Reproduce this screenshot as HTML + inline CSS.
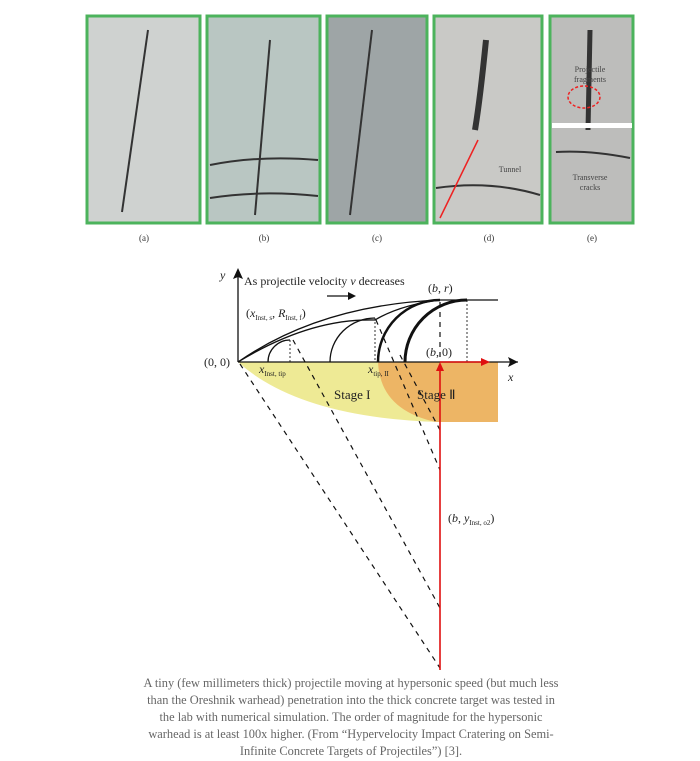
<!DOCTYPE html>
<html><head><meta charset="utf-8"><style>
html,body{margin:0;padding:0;background:#fff;}
body{width:700px;height:761px;position:relative;overflow:hidden;}
svg{position:absolute;left:0;top:0;}
.cap{position:absolute;left:140px;width:422px;top:675px;text-align:center;font-family:"Liberation Serif",serif;font-size:12.4px;line-height:17px;color:#666;}
</style></head><body>
<svg width="700" height="761" viewBox="0 0 700 761" font-family="Liberation Serif, serif">
<g stroke="#4cb35c" stroke-width="3">
<rect x="87" y="16" width="113" height="207" fill="#cfd2d0"/>
<rect x="207" y="16" width="113" height="207" fill="#b9c6c2"/>
<rect x="327" y="16" width="100" height="207" fill="#9ea5a6"/>
<rect x="434" y="16" width="108" height="207" fill="#c9c9c6"/>
<rect x="550" y="16" width="83" height="207" fill="#bdbdbb"/>
</g>
<g fill="none" stroke="#333" stroke-width="2">
<path d="M148 30 L122 212"/><path d="M270 40 L255 215"/><path d="M210 165 Q260 155 318 160"/><path d="M210 198 Q260 190 318 196"/>
<path d="M372 30 L350 215"/><path d="M486 40 Q480 100 475 130" stroke-width="6"/><path d="M436 188 Q490 180 540 195"/>
<path d="M590 30 L588 130" stroke-width="5"/><path d="M556 152 Q590 150 630 158"/>
</g>
<rect x="552" y="123" width="80" height="5" fill="#fff"/>
<path d="M478 140 L440 218" stroke="#e22" stroke-width="1.5"/>
<ellipse cx="584" cy="97" rx="16" ry="11" fill="none" stroke="#e22" stroke-dasharray="3,2" stroke-width="1.5"/>
<g font-size="9" fill="#333" text-anchor="middle">
<text x="144" y="241">(a)</text><text x="264" y="241">(b)</text><text x="377" y="241">(c)</text><text x="489" y="241">(d)</text><text x="592" y="241">(e)</text>
<text x="510" y="172" font-size="8" fill="#444">Tunnel</text>
<text x="590" y="72" font-size="8" fill="#444">Projectile</text><text x="590" y="82" font-size="8" fill="#444">fragments</text>
<text x="590" y="180" font-size="8" fill="#444">Transverse</text><text x="590" y="190" font-size="8" fill="#444">cracks</text>
</g>
<path d="M238 362 H498 V422 H440 Q300 418 238 362 Z" fill="#eeea95"/>
<path d="M378 362 H498 V422 H436 Q380 410 378 362 Z" fill="#edb565"/>
<g stroke="#111" stroke-width="1.2" stroke-dasharray="5,5" fill="none">
<path d="M240 364 L440 668"/><path d="M293 340 L440 608"/><path d="M376 320 L440 470"/><path d="M400 355 L440 430"/>
<path d="M440 302 L440 360"/>
</g>
<g stroke="#333" stroke-width="1" stroke-dasharray="2,2" fill="none">
<path d="M290 340 V362"/><path d="M375 318 V362"/><path d="M467 300 V362"/>
</g>
<g stroke="#111" stroke-width="1.3" fill="none">
<path d="M238 362 H518"/><path d="M238 362 V272"/>
<path d="M440 300 H498"/>
<path d="M238 362 Q320 305 440 300"/><path d="M238 362 Q310 318 375 320 Q400 305 440 300"/>
<path d="M268 362 A22 22 0 0 1 290 340"/>
<path d="M330 362 A45 44 0 0 1 375 318"/>
<path d="M378 362 A62 62 0 0 1 440 300" stroke-width="2.5"/>
<path d="M405 362 A62 62 0 0 1 467 300" stroke-width="3"/>
<path d="M327 296 H352"/>
</g>
<path d="M518 362 L508 357 L510 362 L508 367Z" fill="#111"/>
<path d="M238 268 L233 279 L238 277 L243 279Z" fill="#111"/>
<path d="M356 296 L348 292 L348 300Z" fill="#111"/>
<g stroke="#e01010" stroke-width="1.6"><path d="M440 670 V366"/><path d="M440 362 H484"/></g>
<path d="M440 362 L436 371 L444 371Z" fill="#e01010"/><path d="M490 362 L481 358 L481 366Z" fill="#e01010"/>
<g fill="#222" font-size="12">
<text x="244" y="285">As projectile velocity <tspan font-style="italic">v</tspan> decreases</text>
<text x="220" y="279" font-style="italic">y</text>
<text x="428" y="292">(<tspan font-style="italic">b</tspan>, <tspan font-style="italic">r</tspan>)</text>
<text x="246" y="317">(<tspan font-style="italic">x</tspan><tspan font-size="7" dy="3">Inst, s</tspan><tspan dy="-3">, </tspan><tspan font-style="italic">R</tspan><tspan font-size="7" dy="3">Inst, f</tspan><tspan dy="-3">)</tspan></text>
<text x="204" y="366">(0, 0)</text>
<text x="426" y="356">(<tspan font-style="italic">b</tspan>, 0)</text>
<text x="259" y="373" font-style="italic">x<tspan font-size="7" font-style="normal" dy="3">Inst, tip</tspan></text>
<text x="368" y="373" font-style="italic">x<tspan font-size="7" font-style="normal" dy="3">tip, II</tspan></text>
<text x="508" y="381" font-style="italic">x</text>
<text x="334" y="399" font-size="13">Stage I</text>
<text x="417" y="399" font-size="13">Stage Ⅱ</text>
<text x="448" y="522">(<tspan font-style="italic">b</tspan>, <tspan font-style="italic">y</tspan><tspan font-size="7" dy="3">Inst, o2</tspan><tspan dy="-3">)</tspan></text>
</g>
</svg>
<div class="cap">A tiny (few millimeters thick) projectile moving at hypersonic speed (but much less than the Oreshnik warhead) penetration into the thick concrete target was tested in the lab with numerical simulation. The order of magnitude for the hypersonic warhead is at least 100x higher. (From “Hypervelocity Impact Cratering on Semi-Infinite Concrete Targets of Projectiles”) [3].</div>
</body></html>
